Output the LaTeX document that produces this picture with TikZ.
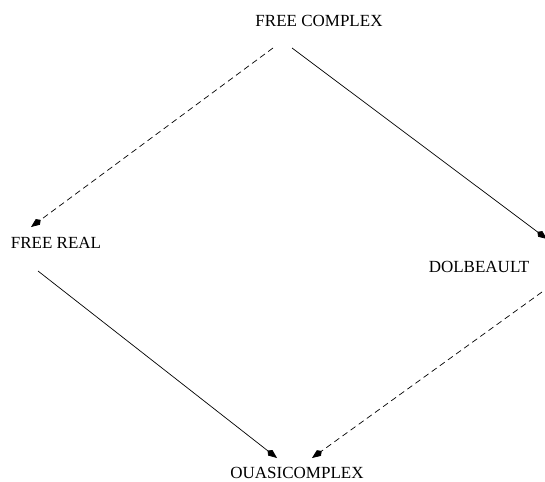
\documentclass[tikz,border=0pt]{standalone}
\usepackage{fontspec}
\setmainfont{Liberation Serif}
\usetikzlibrary{arrows.meta}

\begin{document}
\begin{tikzpicture}[
		x=1pt, y=-1pt,
		labelnode/.style={inner sep=0pt, font=\fontsize{17}{20}\selectfont},
		link/.style={line width=0.7pt, -{Kite[length=12pt,width=7pt,inset=3.5pt]}},
		dashlink/.style={link, dash pattern=on 6pt off 4pt},
	]
		\useasboundingbox (0,0) rectangle (545,481);

		% nodes
		\node[labelnode] (cplx) at (319,21)  {FREE COMPLEX};
		\node[labelnode] (real) at (56,243)  {FREE REAL};
		\node[labelnode] (dolb) at (479,267) {DOLBEAULT};
		\node[labelnode] (quasi) at (297,473) {OUASICOMPLEX};

		% end points
		\coordinate (cplx-l) at (273,48);
		\coordinate (cplx-r) at (292,48);
		\coordinate (real-in) at (31,227);
		\coordinate (real-out) at (38,271);
		\coordinate (dolb-in) at (547,239);
		\coordinate (dolb-out) at (542,292);
		\coordinate (quasi-l) at (277,458);
		\coordinate (quasi-r) at (312,458);

		% lines
		\draw[dashlink] (cplx-l) -- (real-in);
		\draw[link] (cplx-r) -- (dolb-in);
		\draw[link] (real-out) -- (quasi-l);
		\draw[dashlink] (dolb-out) -- (quasi-r);
	\end{tikzpicture}
\end{document}
